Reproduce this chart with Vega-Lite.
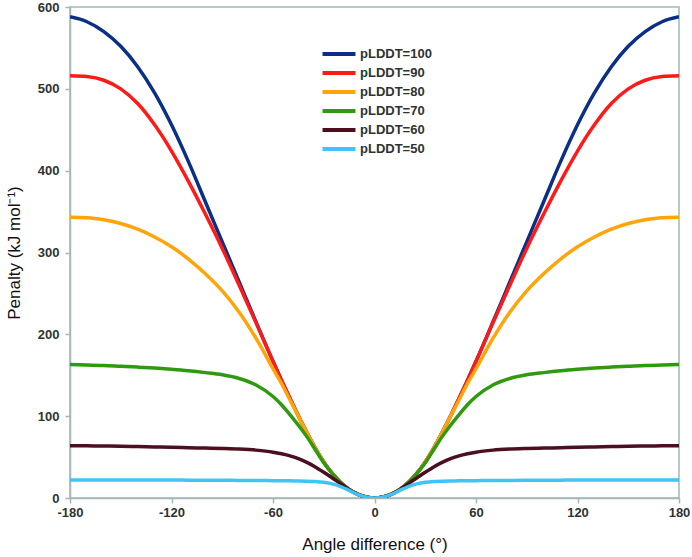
{
  "$schema": "https://vega.github.io/schema/vega-lite/v6.json",
  "autosize": {"type": "none"},
  "padding": {"left": 70, "top": 7, "right": 12, "bottom": 59},
  "width": 609,
  "height": 491,
  "background": "white",
  "config": {
    "view": {"stroke": "#a3b6b8", "strokeWidth": 1.5},
    "font": "Liberation Sans",
    "axis": {
      "domainColor": "#a3b6b8",
      "domainWidth": 1.5,
      "tickColor": "#a3b6b8",
      "tickWidth": 1.5,
      "tickSize": 5,
      "grid": false,
      "labelFont": "Liberation Sans",
      "labelFontWeight": "bold",
      "labelFontSize": 13,
      "labelColor": "#2d3333",
      "titleFont": "Liberation Sans",
      "titleFontWeight": "normal",
      "titleFontSize": 17,
      "titleColor": "#111111"
    }
  },
  "data": {
    "values": [
      {"x": -180, "pLDDT=100": 588, "pLDDT=90": 516, "pLDDT=80": 343, "pLDDT=70": 163, "pLDDT=60": 64, "pLDDT=50": 22},
      {"x": -170, "pLDDT=100": 582, "pLDDT=90": 515, "pLDDT=80": 342.5, "pLDDT=70": 162.6, "pLDDT=60": 63.8, "pLDDT=50": 22},
      {"x": -160, "pLDDT=100": 570, "pLDDT=90": 510.5, "pLDDT=80": 340, "pLDDT=70": 162, "pLDDT=60": 63.5, "pLDDT=50": 22},
      {"x": -150, "pLDDT=100": 552, "pLDDT=90": 500, "pLDDT=80": 335.5, "pLDDT=70": 161, "pLDDT=60": 63.2, "pLDDT=50": 22},
      {"x": -140, "pLDDT=100": 527, "pLDDT=90": 482, "pLDDT=80": 328.5, "pLDDT=70": 160, "pLDDT=60": 62.8, "pLDDT=50": 22},
      {"x": -130, "pLDDT=100": 495, "pLDDT=90": 456, "pLDDT=80": 319, "pLDDT=70": 158.8, "pLDDT=60": 62.4, "pLDDT=50": 22},
      {"x": -120, "pLDDT=100": 456, "pLDDT=90": 424, "pLDDT=80": 307, "pLDDT=70": 157.3, "pLDDT=60": 62, "pLDDT=50": 22},
      {"x": -110, "pLDDT=100": 411, "pLDDT=90": 387, "pLDDT=80": 292, "pLDDT=70": 155.5, "pLDDT=60": 61.5, "pLDDT=50": 21.8},
      {"x": -100, "pLDDT=100": 362, "pLDDT=90": 347, "pLDDT=80": 274, "pLDDT=70": 153.2, "pLDDT=60": 61, "pLDDT=50": 21.7},
      {"x": -90, "pLDDT=100": 313, "pLDDT=90": 305, "pLDDT=80": 253, "pLDDT=70": 150.5, "pLDDT=60": 60.5, "pLDDT=50": 21.6},
      {"x": -80, "pLDDT=100": 264, "pLDDT=90": 260, "pLDDT=80": 227, "pLDDT=70": 146, "pLDDT=60": 59.8, "pLDDT=50": 21.5},
      {"x": -70, "pLDDT=100": 215, "pLDDT=90": 214, "pLDDT=80": 195, "pLDDT=70": 138, "pLDDT=60": 58.5, "pLDDT=50": 21.4},
      {"x": -60, "pLDDT=100": 167, "pLDDT=90": 167, "pLDDT=80": 158, "pLDDT=70": 124, "pLDDT=60": 56, "pLDDT=50": 21.2},
      {"x": -55, "pLDDT=100": 144, "pLDDT=90": 144, "pLDDT=80": 140, "pLDDT=70": 114, "pLDDT=60": 54, "pLDDT=50": 21.1},
      {"x": -50, "pLDDT=100": 122, "pLDDT=90": 122, "pLDDT=80": 120, "pLDDT=70": 102, "pLDDT=60": 51.5, "pLDDT=50": 21},
      {"x": -45, "pLDDT=100": 100.5, "pLDDT=90": 100.5, "pLDDT=80": 100, "pLDDT=70": 89, "pLDDT=60": 48, "pLDDT=50": 20.8},
      {"x": -40, "pLDDT=100": 80, "pLDDT=90": 80, "pLDDT=80": 80, "pLDDT=70": 75, "pLDDT=60": 43.5, "pLDDT=50": 20.6},
      {"x": -35, "pLDDT=100": 61, "pLDDT=90": 61, "pLDDT=80": 61, "pLDDT=70": 59, "pLDDT=60": 38, "pLDDT=50": 20.2},
      {"x": -30, "pLDDT=100": 44, "pLDDT=90": 44, "pLDDT=80": 44, "pLDDT=70": 43, "pLDDT=60": 31.5, "pLDDT=50": 19.2},
      {"x": -25, "pLDDT=100": 30, "pLDDT=90": 30, "pLDDT=80": 30, "pLDDT=70": 30, "pLDDT=60": 24.5, "pLDDT=50": 17.2},
      {"x": -20, "pLDDT=100": 19, "pLDDT=90": 19, "pLDDT=80": 19, "pLDDT=70": 19, "pLDDT=60": 17.5, "pLDDT=50": 14},
      {"x": -15, "pLDDT=100": 10.5, "pLDDT=90": 10.5, "pLDDT=80": 10.5, "pLDDT=70": 10.5, "pLDDT=60": 10.2, "pLDDT=50": 9.3},
      {"x": -10, "pLDDT=100": 4.7, "pLDDT=90": 4.7, "pLDDT=80": 4.7, "pLDDT=70": 4.7, "pLDDT=60": 4.6, "pLDDT=50": 4.3},
      {"x": -5, "pLDDT=100": 1.2, "pLDDT=90": 1.2, "pLDDT=80": 1.2, "pLDDT=70": 1.2, "pLDDT=60": 1.2, "pLDDT=50": 1.2},
      {"x": 0, "pLDDT=100": 0, "pLDDT=90": 0, "pLDDT=80": 0, "pLDDT=70": 0, "pLDDT=60": 0, "pLDDT=50": 0},
      {"x": 5, "pLDDT=100": 1.2, "pLDDT=90": 1.2, "pLDDT=80": 1.2, "pLDDT=70": 1.2, "pLDDT=60": 1.2, "pLDDT=50": 1.2},
      {"x": 10, "pLDDT=100": 4.7, "pLDDT=90": 4.7, "pLDDT=80": 4.7, "pLDDT=70": 4.7, "pLDDT=60": 4.6, "pLDDT=50": 4.3},
      {"x": 15, "pLDDT=100": 10.5, "pLDDT=90": 10.5, "pLDDT=80": 10.5, "pLDDT=70": 10.5, "pLDDT=60": 10.2, "pLDDT=50": 9.3},
      {"x": 20, "pLDDT=100": 19, "pLDDT=90": 19, "pLDDT=80": 19, "pLDDT=70": 19, "pLDDT=60": 17.5, "pLDDT=50": 14},
      {"x": 25, "pLDDT=100": 30, "pLDDT=90": 30, "pLDDT=80": 30, "pLDDT=70": 30, "pLDDT=60": 24.5, "pLDDT=50": 17.2},
      {"x": 30, "pLDDT=100": 44, "pLDDT=90": 44, "pLDDT=80": 44, "pLDDT=70": 43, "pLDDT=60": 31.5, "pLDDT=50": 19.2},
      {"x": 35, "pLDDT=100": 61, "pLDDT=90": 61, "pLDDT=80": 61, "pLDDT=70": 59, "pLDDT=60": 38, "pLDDT=50": 20.2},
      {"x": 40, "pLDDT=100": 80, "pLDDT=90": 80, "pLDDT=80": 80, "pLDDT=70": 75, "pLDDT=60": 43.5, "pLDDT=50": 20.6},
      {"x": 45, "pLDDT=100": 100.5, "pLDDT=90": 100.5, "pLDDT=80": 100, "pLDDT=70": 89, "pLDDT=60": 48, "pLDDT=50": 20.8},
      {"x": 50, "pLDDT=100": 122, "pLDDT=90": 122, "pLDDT=80": 120, "pLDDT=70": 102, "pLDDT=60": 51.5, "pLDDT=50": 21},
      {"x": 55, "pLDDT=100": 144, "pLDDT=90": 144, "pLDDT=80": 140, "pLDDT=70": 114, "pLDDT=60": 54, "pLDDT=50": 21.1},
      {"x": 60, "pLDDT=100": 167, "pLDDT=90": 167, "pLDDT=80": 158, "pLDDT=70": 124, "pLDDT=60": 56, "pLDDT=50": 21.2},
      {"x": 70, "pLDDT=100": 215, "pLDDT=90": 214, "pLDDT=80": 195, "pLDDT=70": 138, "pLDDT=60": 58.5, "pLDDT=50": 21.4},
      {"x": 80, "pLDDT=100": 264, "pLDDT=90": 260, "pLDDT=80": 227, "pLDDT=70": 146, "pLDDT=60": 59.8, "pLDDT=50": 21.5},
      {"x": 90, "pLDDT=100": 313, "pLDDT=90": 305, "pLDDT=80": 253, "pLDDT=70": 150.5, "pLDDT=60": 60.5, "pLDDT=50": 21.6},
      {"x": 100, "pLDDT=100": 362, "pLDDT=90": 347, "pLDDT=80": 274, "pLDDT=70": 153.2, "pLDDT=60": 61, "pLDDT=50": 21.7},
      {"x": 110, "pLDDT=100": 411, "pLDDT=90": 387, "pLDDT=80": 292, "pLDDT=70": 155.5, "pLDDT=60": 61.5, "pLDDT=50": 21.8},
      {"x": 120, "pLDDT=100": 456, "pLDDT=90": 424, "pLDDT=80": 307, "pLDDT=70": 157.3, "pLDDT=60": 62, "pLDDT=50": 22},
      {"x": 130, "pLDDT=100": 495, "pLDDT=90": 456, "pLDDT=80": 319, "pLDDT=70": 158.8, "pLDDT=60": 62.4, "pLDDT=50": 22},
      {"x": 140, "pLDDT=100": 527, "pLDDT=90": 482, "pLDDT=80": 328.5, "pLDDT=70": 160, "pLDDT=60": 62.8, "pLDDT=50": 22},
      {"x": 150, "pLDDT=100": 552, "pLDDT=90": 500, "pLDDT=80": 335.5, "pLDDT=70": 161, "pLDDT=60": 63.2, "pLDDT=50": 22},
      {"x": 160, "pLDDT=100": 570, "pLDDT=90": 510.5, "pLDDT=80": 340, "pLDDT=70": 162, "pLDDT=60": 63.5, "pLDDT=50": 22},
      {"x": 170, "pLDDT=100": 582, "pLDDT=90": 515, "pLDDT=80": 342.5, "pLDDT=70": 162.6, "pLDDT=60": 63.8, "pLDDT=50": 22},
      {"x": 180, "pLDDT=100": 588, "pLDDT=90": 516, "pLDDT=80": 343, "pLDDT=70": 163, "pLDDT=60": 64, "pLDDT=50": 22}
    ]
  },
  "transform": [
    {"fold": ["pLDDT=100", "pLDDT=90", "pLDDT=80", "pLDDT=70", "pLDDT=60", "pLDDT=50"], "as": ["series", "value"]}
  ],
  "mark": {"type": "line", "strokeWidth": 3.5, "interpolate": "monotone", "clip": true},
  "encoding": {
    "x": {
      "field": "x", "type": "quantitative",
      "scale": {"domain": [-180, 180], "nice": false, "zero": false},
      "axis": {"values": [-180, -120, -60, 0, 60, 120, 180], "title": "Angle difference (°)", "labelPadding": 3, "titlePadding": 17, "labelFlush": false, "labelExpr": "replace(datum.label, '\u2212', '-')"}
    },
    "y": {
      "field": "value", "type": "quantitative",
      "scale": {"domain": [0, 600], "nice": false},
      "axis": {"values": [0, 100, 200, 300, 400, 500, 600], "title": "Penalty (kJ mol⁻¹)", "labelPadding": 6, "titlePadding": 14}
    },
    "color": {
      "field": "series", "type": "nominal",
      "scale": {
        "domain": ["pLDDT=100", "pLDDT=90", "pLDDT=80", "pLDDT=70", "pLDDT=60", "pLDDT=50"],
        "range": ["#0a2f86", "#ff1a1a", "#ffa50a", "#2f9a10", "#4b0f1f", "#40c4f8"]
      },
      "legend": {
        "title": null,
        "orient": "none",
        "legendX": 258,
        "legendY": 36,
        "symbolType": "M-1.83,0H1.83",
        "symbolStrokeWidth": 4,
        "symbolSize": 324,
        "labelOffset": 10,
        "labelFont": "Liberation Sans",
        "labelFontWeight": "bold",
        "labelFontSize": 13,
        "labelColor": "#2d3333",
        "rowPadding": -1
      }
    }
  }
}
